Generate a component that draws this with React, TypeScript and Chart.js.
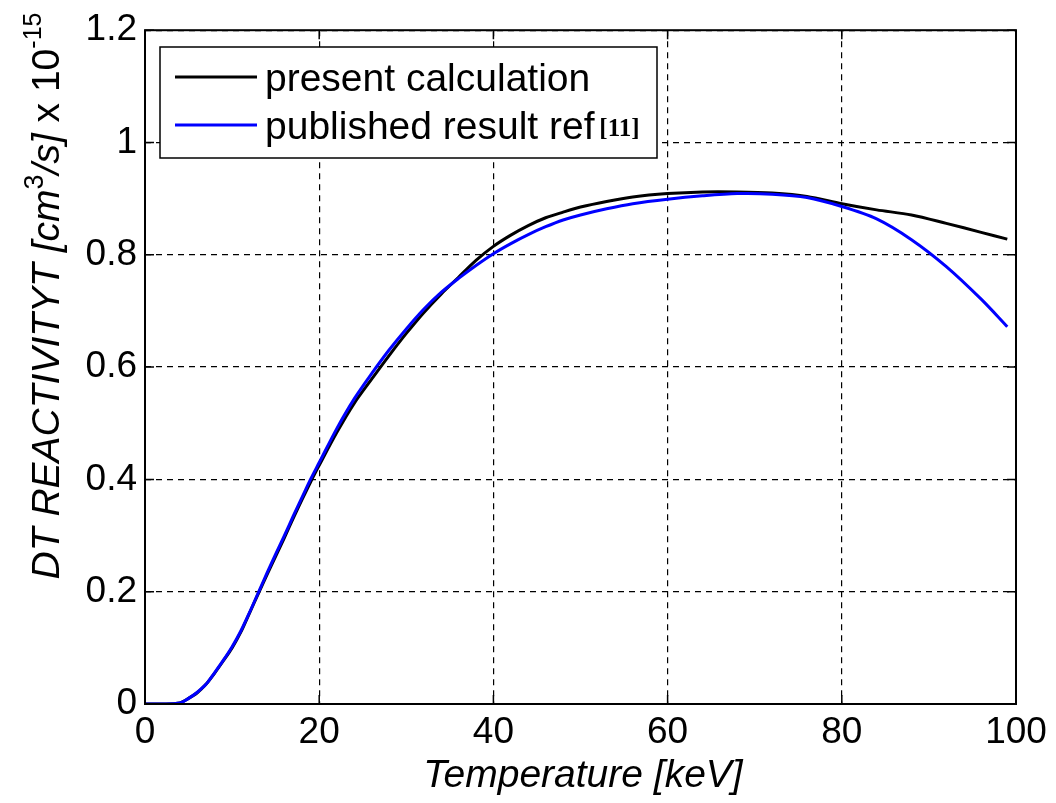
import React, { useEffect, useRef } from "react";
import { Chart, registerables } from "chart.js";

Chart.register(...registerables);

const temperatures = [0, 2, 4, 5, 6, 7, 8, 9, 10, 11, 12, 13, 14, 15, 16, 17, 18, 19, 20, 22, 24, 26, 28, 30, 32, 34, 36, 38, 40, 42, 44, 46, 48, 50, 53, 56, 60, 64, 68, 72, 76, 80, 84, 88, 92, 96, 99];
const presentCalc = [0, 0, 0.002, 0.01, 0.02, 0.035, 0.055, 0.077, 0.1, 0.128, 0.162, 0.196, 0.23, 0.263, 0.296, 0.33, 0.363, 0.395, 0.425, 0.483, 0.535, 0.578, 0.62, 0.66, 0.697, 0.73, 0.76, 0.79, 0.815, 0.835, 0.852, 0.866, 0.876, 0.885, 0.895, 0.903, 0.909, 0.912, 0.912, 0.91, 0.904, 0.891, 0.88, 0.871, 0.856, 0.84, 0.828];
const publishedRef = [0, 0, 0.002, 0.01, 0.021, 0.035, 0.056, 0.078, 0.102, 0.13, 0.163, 0.198, 0.233, 0.267, 0.3, 0.334, 0.367, 0.4, 0.43, 0.49, 0.543, 0.588, 0.63, 0.668, 0.703, 0.733, 0.758, 0.781, 0.802, 0.82, 0.836, 0.85, 0.862, 0.871, 0.882, 0.891, 0.899, 0.905, 0.909, 0.908, 0.902, 0.886, 0.864, 0.827, 0.779, 0.721, 0.672];
const xTicks = [0, 20, 40, 60, 80, 100];
const yTicks = [0, 0.2, 0.4, 0.6, 0.8, 1, 1.2];
const seriesLabels = ["present calculation", "published result ref"];
const refTag = "[11]";
const xTitle = "Temperature [keV]";

const FONT = "Arial, 'Liberation Sans', sans-serif";

const framePlugin = {
  id: "frame",
  afterDatasetsDraw(chart: any) {
    const { ctx, chartArea: a, scales } = chart;
    ctx.save();
    ctx.strokeStyle = "#000";
    ctx.lineWidth = 1.5;
    const tl = 9;
    ctx.beginPath();
    xTicks.forEach((t) => {
      const x = scales.x.getPixelForValue(t);
      ctx.moveTo(x, a.bottom);
      ctx.lineTo(x, a.bottom - tl);
      ctx.moveTo(x, a.top);
      ctx.lineTo(x, a.top + tl);
    });
    yTicks.forEach((t) => {
      const y = scales.y.getPixelForValue(t);
      ctx.moveTo(a.left, y);
      ctx.lineTo(a.left + tl, y);
      ctx.moveTo(a.right, y);
      ctx.lineTo(a.right - tl, y);
    });
    ctx.stroke();
    ctx.lineWidth = 2;
    ctx.strokeRect(a.left, a.top, a.right - a.left, a.bottom - a.top);

    // legend
    const lx = 160, ly = 47, lw = 497, lh = 111;
    ctx.fillStyle = "#fff";
    ctx.fillRect(lx, ly, lw, lh);
    ctx.lineWidth = 1.5;
    ctx.strokeRect(lx, ly, lw, lh);
    const rows = [
      { y: 77, color: "#000", label: seriesLabels[0] },
      { y: 125, color: "#0000ff", label: seriesLabels[1] },
    ];
    ctx.textBaseline = "middle";
    ctx.textAlign = "left";
    rows.forEach((r, i) => {
      ctx.strokeStyle = r.color;
      ctx.lineWidth = 3;
      ctx.beginPath();
      ctx.moveTo(175, r.y);
      ctx.lineTo(257, r.y);
      ctx.stroke();
      ctx.fillStyle = "#000";
      ctx.font = `39px ${FONT}`;
      ctx.fillText(r.label, 265, r.y + 3);
      if (i === 1) {
        const w = ctx.measureText(r.label + " ").width;
        ctx.font = `bold 25px 'Liberation Serif', 'DejaVu Serif', serif`;
        ctx.fillText(refTag, 265 + w - 6, r.y + 5);
      }
    });

    // x title
    ctx.font = `italic 39px ${FONT}`;
    ctx.textAlign = "center";
    ctx.textBaseline = "alphabetic";
    ctx.fillText(xTitle, 583, 787);

    // y title
    const segs = [
      { t: "DT REACTIVITYT [cm", f: `italic 39px ${FONT}`, dy: 0 },
      { t: "3", f: `27px ${FONT}`, dy: -16 },
      { t: "/s] ", f: `italic 39px ${FONT}`, dy: 0 },
      { t: "x 10", f: `39px ${FONT}`, dy: 0 },
      { t: "-15", f: `25px ${FONT}`, dy: -18 },
    ];
    let total = 0;
    segs.forEach((s) => {
      ctx.font = s.f;
      total += ctx.measureText(s.t).width;
    });
    ctx.translate(59, 296);
    ctx.rotate(-Math.PI / 2);
    ctx.textAlign = "left";
    let cx = -total / 2;
    segs.forEach((s) => {
      ctx.font = s.f;
      ctx.fillText(s.t, cx, s.dy);
      cx += ctx.measureText(s.t).width;
    });
    ctx.restore();
  },
};

export default function App() {
  const ref = useRef<HTMLCanvasElement>(null);
  useEffect(() => {
    document.body.style.margin = "0";
    const chart = new Chart(ref.current as HTMLCanvasElement, {
      type: "line",
      data: {
        datasets: [
          {
            label: seriesLabels[0],
            data: temperatures.map((t, i) => ({ x: t, y: presentCalc[i] })),
            borderColor: "#000",
            borderWidth: 3,
            pointRadius: 0,
            tension: 0.3,
            order: 1,
          },
          {
            label: seriesLabels[1],
            data: temperatures.map((t, i) => ({ x: t, y: publishedRef[i] })),
            borderColor: "#0000ff",
            borderWidth: 3,
            pointRadius: 0,
            tension: 0.3,
            order: 0,
          },
        ],
      },
      options: {
        responsive: false,
        animation: false,
        layout: { padding: { left: 0, right: 40, top: 29, bottom: 0 } },
        plugins: { legend: { display: false }, tooltip: { enabled: false } },
        scales: {
          x: {
            type: "linear",
            min: 0,
            max: 100,
            afterBuildTicks: (s: any) => {
              s.ticks = xTicks.map((v) => ({ value: v }));
            },
            afterFit: (s: any) => {
              s.height = 99;
            },
            ticks: { color: "#000", font: { size: 37, family: FONT }, padding: 7, maxRotation: 0, autoSkip: false, callback: (v: any) => String(v) },
            grid: { color: "#000", lineWidth: 1.2, drawTicks: false } as any,
            border: { display: false, dash: [6, 5] } as any,
          },
          y: {
            type: "linear",
            min: 0,
            max: 1.2,
            afterBuildTicks: (s: any) => {
              s.ticks = yTicks.map((v) => ({ value: v }));
            },
            afterFit: (s: any) => {
              s.width = 145;
            },
            ticks: { color: "#000", font: { size: 37, family: FONT }, padding: 8, autoSkip: false, callback: (v: any) => String(Math.round(v * 10) / 10) },
            grid: { color: "#000", lineWidth: 1.2, drawTicks: false } as any,
            border: { display: false, dash: [6, 5] } as any,
          },
        },
      },
      plugins: [framePlugin],
    } as any);
    return () => chart.destroy();
  }, []);
  return (
    <div style={{ width: 1056, height: 803, background: "#fff" }}>
      <canvas ref={ref} width={1056} height={803} style={{ display: "block" }} />
    </div>
  );
}
